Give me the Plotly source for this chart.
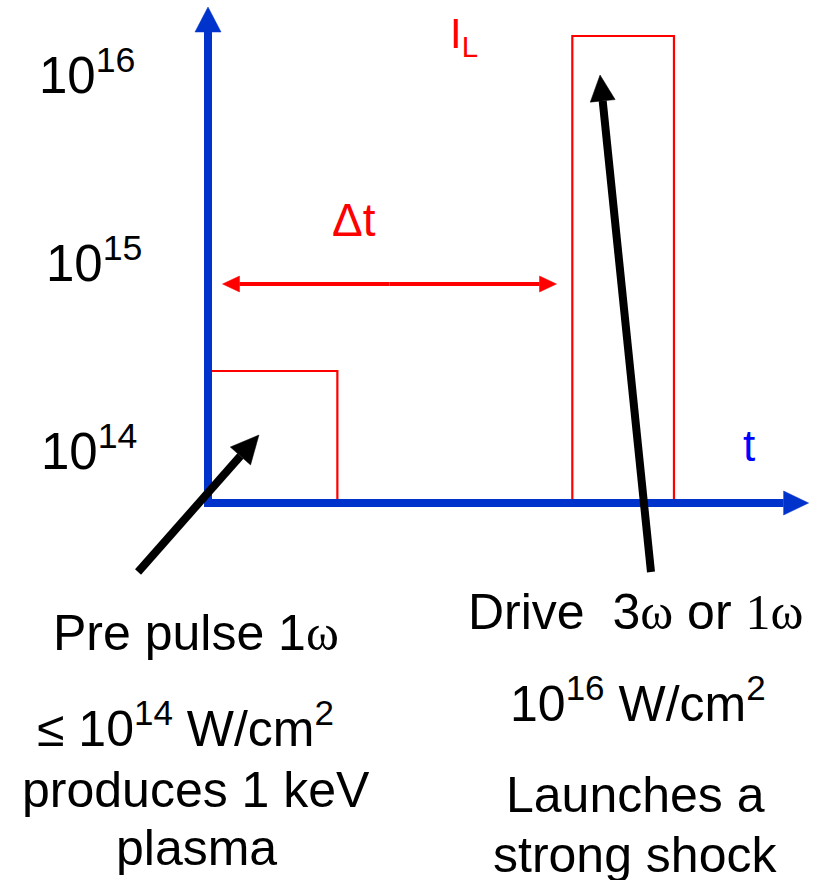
import numpy as np
import plotly.graph_objects as go

# ---------------- data (time in arbitrary units, level = log-intensity axis units) ----------
pulse_names = ["Pre pulse", "Drive"]
pulse_start = [0.0, 2.76]
pulse_end = [0.98, 3.53]
pulse_level = [1.32, 4.67]

tick_labels = ["10<sup>14</sup>", "10<sup>15</sup>", "10<sup>16</sup>"]
tick_levels = [0.55, 2.43, 4.31]
tick_t = [-0.90, -0.86, -0.92]

t_axis_end = 4.55
level_axis_end = 4.96
delta_t_from, delta_t_to, delta_t_level = 0.11, 2.64, 2.19

left_lines = ["Pre pulse 1<span style='font-family:Liberation Serif, Times New Roman'>ω</span>",
              "≤ 10<sup>14</sup> W/cm<sup>2</sup>",
              "produces 1 keV",
              "plasma"]
left_levels = [-1.30, -2.22, -2.87, -3.45]
left_t = [-0.09, -0.17, -0.09, -0.09]
right_lines = ["Drive  3<span style='font-family:Liberation Serif, Times New Roman'>ω</span> or "
               "<span style='font-family:Liberation Serif, Times New Roman'>1ω</span>",
               "10<sup>16</sup> W/cm<sup>2</sup>",
               "Launches a",
               "strong shock"]
right_levels = [-1.09, -1.97, -2.92, -3.52]
right_t = [3.235, 3.26, 3.235, 3.235]

# ---------------- geometry ----------------
W, H = 826, 880
X0, Y0 = 208, 503      # pixel position of origin
KX, KY = 132.0, 100.0  # pixels per data unit
xrange = [-X0 / KX, (W - X0) / KX]
yrange = [(Y0 - H) / KY, Y0 / KY]

BLUE = "#0033CC"
RED = "#FF0000"
FONT = "Liberation Sans, Arial, sans-serif"


def to_px(t, l):
    return X0 + t * KX, Y0 - l * KY


def to_data(px, py):
    return (px - X0) / KX, (Y0 - py) / KY


shapes = []


def arrow(tail, tip, color, width, head_len, head_w):
    tx, ty = to_px(*tail)
    hx, hy = to_px(*tip)
    d = np.array([hx - tx, hy - ty])
    L = np.hypot(*d)
    u = d / L
    n = np.array([-u[1], u[0]])
    base = np.array([hx, hy]) - u * head_len
    bx, by = to_data(*base)
    shapes.append(dict(type="line", x0=tail[0], y0=tail[1], x1=bx, y1=by,
                       line=dict(color=color, width=width)))
    c1 = base + n * head_w / 2
    c2 = base - n * head_w / 2
    pts = [to_data(hx, hy), to_data(*c1), to_data(*c2)]
    path = "M {} {} L {} {} L {} {} Z".format(*[v for p in pts for v in p])
    shapes.append(dict(type="path", path=path, fillcolor=color,
                       line=dict(color=color, width=0.5)))


fig = go.Figure()

# pulses
for name, s, e, lv in zip(pulse_names, pulse_start, pulse_end, pulse_level):
    if s == 0.0:
        xs, ys = [s, e, e], [lv, lv, 0]
    else:
        xs, ys = [s, s, e, e], [0, lv, lv, 0]
    fig.add_trace(go.Scatter(x=xs, y=ys, mode="lines", name=name,
                             line=dict(color=RED, width=2.2), hoverinfo="skip"))

# axes (blue arrows)
arrow((0, 0), (0, level_axis_end), BLUE, 8, 25, 26)
arrow((-0.03, 0), (t_axis_end, 0), BLUE, 8, 25, 24)
# delta t double arrow
mid = (delta_t_from + delta_t_to) / 2
arrow((mid, delta_t_level), (delta_t_to, delta_t_level), RED, 4, 17, 16)
arrow((mid, delta_t_level), (delta_t_from, delta_t_level), RED, 4, 17, 16)
# black pointer arrows
arrow((-0.53, -0.69), (0.386, 0.68), "black", 8, 28, 27)
arrow((3.356, -0.69), (2.97, 4.28), "black", 8, 26, 25)

ann = []
for lab, lv, tt in zip(tick_labels, tick_levels, tick_t):
    ann.append(dict(x=tt, y=lv, text=lab, showarrow=False, xanchor="center",
                    yanchor="middle", font=dict(size=51, color="black", family=FONT)))
ann.append(dict(x=1.106, y=2.83, text="Δt", showarrow=False,
                font=dict(size=46, color=RED, family=FONT)))
ann.append(dict(x=1.82, y=4.67, text="I<sub>L</sub>", showarrow=False, xanchor="left",
                font=dict(size=42, color=RED, family=FONT)))
ann.append(dict(x=4.10, y=0.58, text="t", showarrow=False,
                font=dict(size=44, color="#0000FF", family=FONT)))
for txt, t, lv in zip(left_lines, left_t, left_levels):
    ann.append(dict(x=t, y=lv, text=txt, showarrow=False,
                    font=dict(size=50, color="black", family=FONT)))
for txt, t, lv in zip(right_lines, right_t, right_levels):
    ann.append(dict(x=t, y=lv, text=txt, showarrow=False,
                    font=dict(size=50, color="black", family=FONT)))

fig.update_layout(
    width=W, height=H, margin=dict(l=0, r=0, t=0, b=0),
    paper_bgcolor="white", plot_bgcolor="white", showlegend=False,
    xaxis=dict(range=xrange, visible=False, fixedrange=True),
    yaxis=dict(range=yrange, visible=False, fixedrange=True),
    shapes=shapes, annotations=ann,
)
fig.write_html("out.html")
